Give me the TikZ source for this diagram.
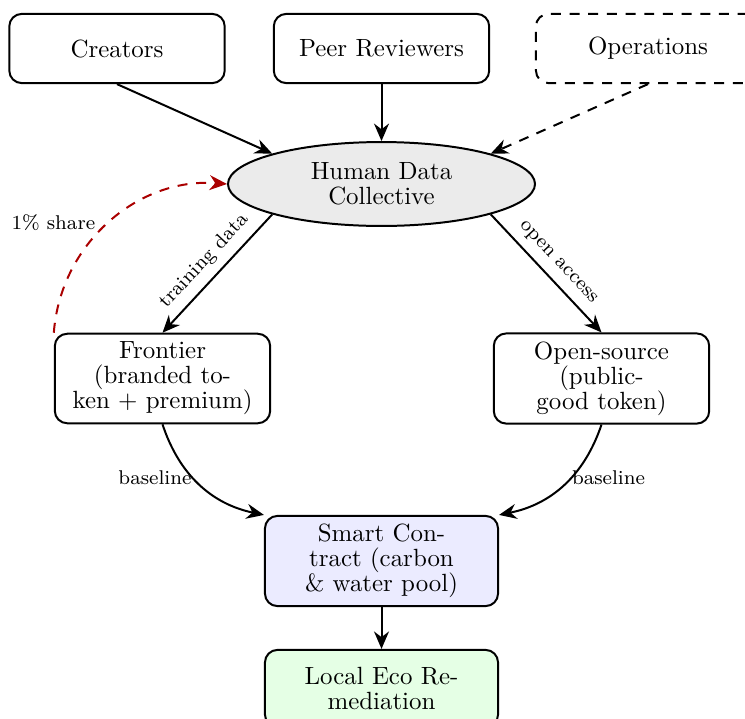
\documentclass[tikz,border=0pt]{standalone}
\usetikzlibrary{arrows.meta,shapes.geometric}
\definecolor{sharered}{RGB}{170,0,0}
\begin{document}
\begin{tikzpicture}[x=0.4016pt,y=0.4016pt,
  box/.style={draw, thick, rounded corners=5pt, minimum width=86.5pt, minimum height=27.8pt,
    align=center, inner sep=3.33pt, font=\fontsize{10pt}{10pt}\selectfont},
  hub/.style={draw, thick, ellipse, fill=black!8, minimum width=123.3pt, minimum height=33.7pt,
    align=center, inner sep=1pt, font=\fontsize{10pt}{10pt}\selectfont},
  flow/.style={thick, -{Stealth[length=7pt,width=6pt]}},
  dsh/.style={dash pattern=on 4pt off 3.5pt},
  lab/.style={font=\footnotesize},
]
\useasboundingbox (0,0) rectangle (745,-718);

\node[box] (cre) at (117,-48.5) {Creators};
\node[box] (peer) at (381.5,-48.5) {Peer Reviewers};
\node[box, dsh, minimum width=90pt] (ops) at (648,-48.5) {Operations};
\node[hub] (hdc) at (381.5,-184) {Human Data\\Collective};
\node[box] (fr) at (162.5,-378.5) {Frontier\\(branded to-\\ken + premium)};
\node[box] (os) at (601.5,-378.5) {Open-source\\(public-\\good token)};
\node[box, fill=blue!8, minimum width=93.6pt] (sc) at (381.5,-561) {Smart Con-\\tract (carbon\\\& water pool)};
\node[box, fill=green!10, minimum width=93.6pt, minimum height=31pt] (eco) at (381.5,-688.5) {Local Eco Re-\\mediation};

\draw[flow] (cre.south) -- (hdc.north west);
\draw[flow] (peer) -- (hdc);
\draw[flow, dsh] (ops.south) -- (hdc.north east);
\draw[flow] (hdc.south west) -- node[lab, above, sloped] {training data} (fr.north);
\draw[flow] (hdc.south east) -- node[lab, above, sloped] {open access} (os.north);
\draw[flow] (fr.south) to[bend right] node[lab, anchor=east, pos=0.47, inner sep=1.8pt, yshift=1.8pt] {baseline} (sc.north west);
\draw[flow] (os.south) to[bend left] node[lab, anchor=west, pos=0.47, inner sep=1.8pt, yshift=1.8pt] {baseline} (sc.north east);
\draw[flow] (sc) -- (eco);
\draw[flow, dsh, sharered] (fr.north west) to[bend left=45] node[lab, left=2pt, text=black] {1\% share} (hdc.west);
\end{tikzpicture}
\end{document}
